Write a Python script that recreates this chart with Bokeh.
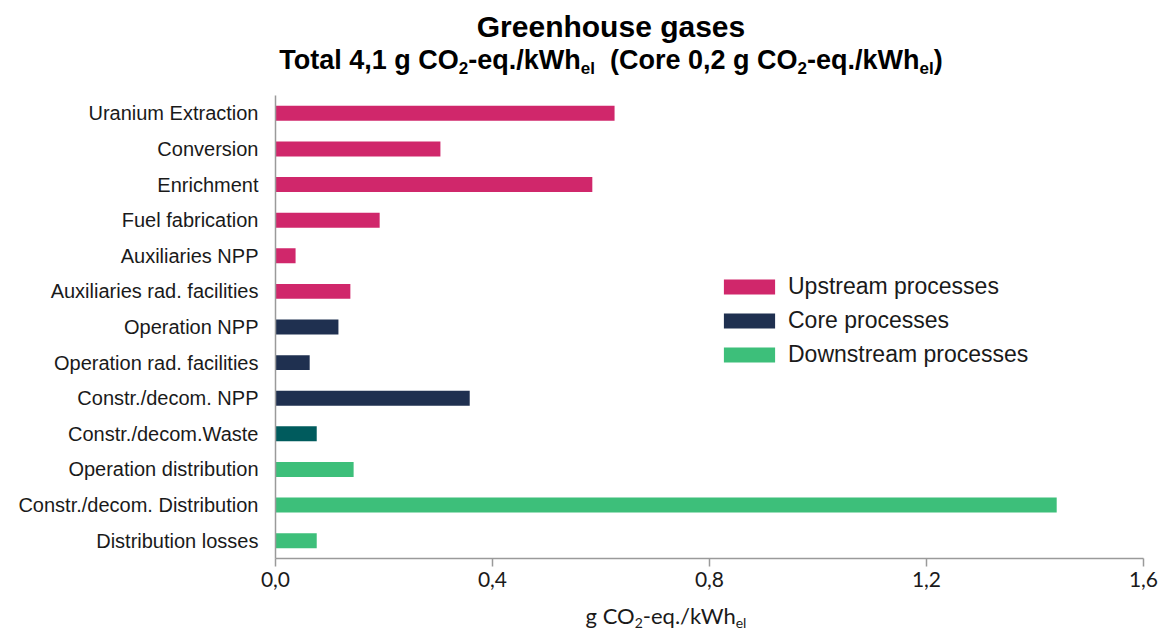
from bokeh.plotting import figure
from bokeh.models import (Div, FactorRange, Range1d, Legend, LegendItem, ColumnDataSource,
                          FixedTicker, CustomJSTickFormatter)
from bokeh.layouts import column
from bokeh.embed import file_html
from bokeh.resources import INLINE

categories = ["Uranium Extraction", "Conversion", "Enrichment", "Fuel fabrication",
              "Auxiliaries NPP", "Auxiliaries rad. facilities", "Operation NPP",
              "Operation rad. facilities", "Constr./decom. NPP", "Constr./decom.Waste",
              "Operation distribution", "Constr./decom. Distribution", "Distribution losses"]
values = [0.625, 0.304, 0.584, 0.192, 0.037, 0.138, 0.116, 0.063, 0.358, 0.076, 0.144, 1.44, 0.076]
groups = ["up", "up", "up", "up", "up", "up", "core", "core", "core", "waste", "down", "down", "down"]
group_labels = {"up": "Upstream processes", "core": "Core processes", "down": "Downstream processes", "waste": None}
group_colors = {"up": "#D0276B", "core": "#1F3050", "waste": "#005B5D", "down": "#3DBF7A"}
x_ticks = [0.0, 0.4, 0.8, 1.2, 1.6]

SUB = 'style="font-size:17px;line-height:0;vertical-align:-5px;"'
title_div = Div(
    text=f"""<div style="margin-left:64px;width:1094px;text-align:center;font-family:'Liberation Sans',Arial,sans-serif;font-weight:bold;color:#000;">
<div style="font-size:30px;line-height:34px;padding-top:10px;">Greenhouse gases</div>
<div style="font-size:27px;line-height:30px;margin-top:1px;">Total 4,1 g CO<sub {SUB}>2</sub>-eq./kWh<sub {SUB}>el</sub>&nbsp; (Core 0,2 g CO<sub {SUB}>2</sub>-eq./kWh<sub {SUB}>el</sub>)</div>
</div>""",
    width=1158, height=93, margin=(0, 0, 0, 0))

p = figure(width=1158, height=505, output_backend="svg", toolbar_location=None,
           y_range=FactorRange(*list(reversed(categories)), range_padding=0),
           x_range=Range1d(0, 1.6),
           min_border_left=275, min_border_right=15, min_border_top=2, min_border_bottom=40,
           outline_line_color=None, margin=(0, 0, 0, 0))

legend_items = []
for g in ["up", "core", "waste", "down"]:
    idx = [i for i, gg in enumerate(groups) if gg == g]
    src = ColumnDataSource(dict(cat=[categories[i] for i in idx], val=[values[i] for i in idx]))
    r = p.hbar(y="cat", right="val", left=0, height=0.42, source=src,
               fill_color=group_colors[g], line_color=None)
    if group_labels[g]:
        legend_items.append(LegendItem(label=group_labels[g], renderers=[r]))

legend = Legend(items=legend_items, location=(442, 190), orientation="vertical",
                glyph_width=64, glyph_height=19, label_height=24, spacing=7,
                label_standoff=7, padding=0, margin=0, border_line_color=None,
                background_fill_alpha=0, label_text_font="Liberation Sans",
                label_text_font_size="23px", label_text_color="#1a1a1a")
p.add_layout(legend, "center")

p.xgrid.visible = False
p.ygrid.visible = False

p.xaxis.ticker = FixedTicker(ticks=x_ticks)
p.xaxis.formatter = CustomJSTickFormatter(code="return tick.toFixed(1).replace('.', ',');")
p.xaxis.major_tick_out = 8
p.xaxis.major_tick_in = 0
p.xaxis.minor_tick_line_color = None
p.xaxis.axis_line_color = "#9A9A9A"
p.xaxis.axis_line_width = 1.5
p.xaxis.major_tick_line_color = "#9A9A9A"
p.xaxis.major_tick_line_width = 1.5
p.xaxis.major_label_text_font = "Lato"
p.xaxis.major_label_text_font_size = "21px"
p.xaxis.major_label_text_color = "#1a1a1a"
p.xaxis.major_label_standoff = 5

p.yaxis.major_tick_out = 0
p.yaxis.major_tick_in = 0
p.yaxis.minor_tick_line_color = None
p.yaxis.axis_line_color = "#9A9A9A"
p.yaxis.axis_line_width = 1.5
p.yaxis.major_label_text_font = "Liberation Sans"
p.yaxis.major_label_text_font_size = "20px"
p.yaxis.major_label_text_color = "#1a1a1a"
p.yaxis.major_label_standoff = 17

SUB2 = 'style="font-size:14px;line-height:0;vertical-align:-4px;"'
xlabel_div = Div(
    text=f"""<div style="margin-left:182px;width:968px;text-align:center;font-family:'Lato',sans-serif;font-size:22px;line-height:24px;padding-top:6px;color:#1a1a1a;">g CO<sub {SUB2}>2</sub>-eq./kWh<sub {SUB2}>el</sub></div>""",
    width=1158, height=30, margin=(0, 0, 0, 0))

layout = column(title_div, p, xlabel_div, spacing=0)
open("out.html", "w").write(file_html(layout, INLINE))
